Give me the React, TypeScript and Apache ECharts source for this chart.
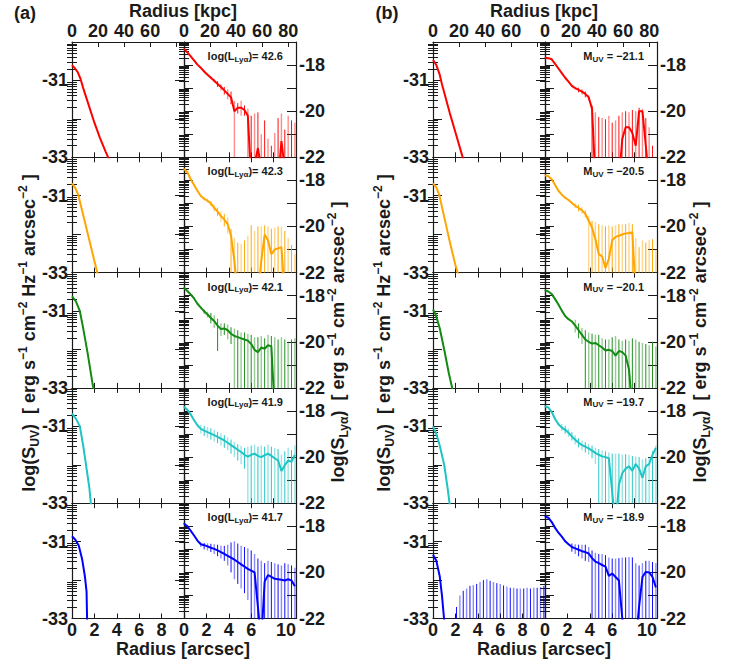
import React, { useEffect, useRef } from "react";
import * as echarts from "echarts";

// ---------- data ----------
const D = -99; // error bar runs below the plotted range

const radiusLya = [0, 0.3, 0.6, 0.9, 1.2, 1.5, 1.8, 2.1, 2.4, 2.7, 3.0, 3.3, 3.6, 3.9, 4.2, 4.5, 4.8, 5.1, 5.4, 5.7, 6.0, 6.3, 6.6, 6.9, 7.2, 7.5, 7.8, 8.1, 8.4, 8.7, 9.0, 9.3, 9.6, 9.9];

const kpcTicks = [0, 20, 40, 60, 80];
const arcsecTicks = [0, 2, 4, 6, 8, 10];
const uvTickLabels = [-33, -31];
const lyaTickLabels = [-22, -20, -18];
const uvRange = [-33, -30];
const lyaRange = [-22, -17];
const KPC_MAX = 86;

const lumLabels = ["42.6", "42.3", "42.1", "41.9", "41.7"];
const muvLabels = ["\u221221.1", "\u221220.5", "\u221220.1", "\u221219.7", "\u221218.9"];

// UV profiles, panel (a)
const uvA1x = [0, 0.25, 0.5, 0.75, 1, 1.5, 2, 2.5, 3, 3.3];
const uvA1y = [-30.6, -30.68, -30.78, -30.95, -31.2, -31.65, -32.1, -32.5, -32.85, -33.05];
const uvA2x = [0, 0.3, 0.55, 1, 1.5, 2, 2.3];
const uvA2y = [-30.68, -30.8, -30.97, -31.5, -32.1, -32.7, -33.05];
const uvA3x = [0, 0.35, 0.7, 1, 1.4, 1.85, 1.95];
const uvA3y = [-30.62, -30.75, -31.0, -31.45, -32.1, -32.92, -33.05];
const uvA4x = [0, 0.35, 0.7, 1, 1.3, 1.55, 1.7];
const uvA4y = [-30.67, -30.8, -31.0, -31.5, -32.1, -32.6, -33.05];
const uvA5x = [0, 0.3, 0.6, 0.9, 1.15, 1.3, 1.35];
const uvA5y = [-30.86, -30.95, -31.1, -31.45, -31.9, -32.3, -33.05];

// UV profiles, panel (b)
const uvB1x = [0, 0.3, 0.6, 0.8, 1.5, 2, 2.6, 2.7];
const uvB1y = [-30.47, -30.6, -30.85, -31.1, -31.85, -32.35, -32.95, -33.05];
const uvB2x = [0, 0.3, 0.55, 1, 1.5, 2, 2.25];
const uvB2y = [-30.68, -30.78, -30.97, -31.55, -32.2, -32.8, -33.05];
const uvB3x = [0, 0.25, 0.6, 1, 1.4, 1.75];
const uvB3y = [-30.96, -31.1, -31.45, -32.0, -32.6, -33.05];
const uvB4x = [0, 0.3, 0.6, 1, 1.3, 1.5];
const uvB4y = [-31.0, -31.2, -31.5, -32.0, -32.6, -33.05];
const uvB5x = [0, 0.3, 0.6, 0.8, 1.0];
const uvB5y = [-31.34, -31.5, -31.9, -32.4, -33.05];
const uvB5BarX = [2.1, 2.4, 2.7, 3.0, 3.3, 3.6, 3.9, 4.2, 4.5, 4.8, 5.1, 5.4, 5.7, 6.0, 6.3, 6.6, 6.9, 7.2, 7.5, 7.8, 8.1, 8.4, 8.7, 9.0, 9.3, 9.6, 9.9];
const uvB5BarHi = [-32.7, -32.4, -32.28, -32.22, -32.15, -32.13, -32.1, -32.05, -32.0, -31.98, -32.02, -32.05, -32.08, -32.1, -32.14, -32.17, -32.2, -32.2, -32.22, -32.22, -32.22, -32.2, -32.22, -32.2, -32.2, -32.18, -32.15];

// Lya profiles, panel (a)
const lyaA1 = [-17.3, -17.45, -17.62, -17.8, -17.98, -18.12, -18.28, -18.42, -18.55, -18.68, -18.82, -18.95, -19.1, -19.25, -19.4, -20.0, -19.85, -19.85, -19.95, -20.2, -23, -22.3, -21.6, -22.5, -23, -23, -23, -23, -23, -21.3, -22.5, -23, -23, -23];
const lyaA1Hi = [-17.28, -17.43, -17.6, -17.78, -17.96, -18.1, -18.25, -18.38, -18.5, -18.6, -18.7, -18.82, -18.95, -19.05, -19.15, -19.55, -19.65, -19.55, -19.75, -19.9, -20.2, -20.1, -20.05, -21.0, -20.4, -21.2, -21.5, -20.95, -20.3, -20.1, -20.8, -20.2, -20.4, -20.5];
const lyaA1Lo = [-17.32, -17.47, -17.64, -17.82, -18.0, -18.14, -18.31, -18.46, -18.6, -18.76, -18.95, -19.1, -19.28, -19.48, -19.7, D, -20.1, -20.2, -20.2, D, D, D, D, D, D, D, D, D, D, D, D, D, D, D];

const lyaA2 = [-17.5, -17.65, -17.95, -18.2, -18.45, -18.68, -18.8, -18.88, -19.0, -19.2, -19.35, -19.55, -19.7, -19.9, -20.4, -21.5, -23, -23, -23, -23, -23, -23, -23, -21.5, -20.35, -20.6, -21.2, -21.0, -20.95, -20.9, -23, -23, -23, -23];
const lyaA2Hi = [-17.48, -17.63, -17.92, -18.17, -18.42, -18.64, -18.74, -18.8, -18.9, -19.05, -19.18, -19.33, -19.45, -19.6, -20.1, -20.5, -20.7, -20.75, -20.6, -20.4, -19.95, -20.2, -20.0, -20.0, -19.95, -20.0, -20.1, -20.05, -20.0, -20.0, -20.2, -20.5, -20.8, -21.2];
const lyaA2Lo = [-17.52, -17.67, -17.98, -18.23, -18.48, -18.72, -18.86, -18.96, -19.1, -19.35, -19.55, -19.8, -20.0, -20.3, D, D, D, D, D, D, D, D, D, D, D, D, D, D, D, D, D, D, D, D];

const lyaA3 = [-17.65, -17.8, -17.95, -18.12, -18.35, -18.52, -18.68, -18.82, -18.97, -19.1, -19.3, -19.45, -19.42, -19.5, -19.65, -19.75, -19.8, -19.85, -19.9, -19.95, -20.1, -20.35, -20.45, -20.25, -20.3, -20.15, -20.2, -23, -23, -23, -23, -23, -23, -23];
const lyaA3Hi = [-17.62, -17.77, -17.92, -18.09, -18.31, -18.46, -18.6, -18.7, -18.75, -18.85, -19.0, -19.2, -19.2, -19.25, -19.37, -19.43, -19.5, -19.6, -19.6, -19.65, -19.7, -19.8, -19.8, -19.75, -19.85, -19.7, -19.75, -19.8, -19.9, -19.8, -19.9, -20.0, -19.9, -19.85];
const lyaA3Lo = [-17.68, -17.83, -17.98, -18.15, -18.39, -18.58, -18.78, -18.95, -19.2, -19.4, -20.4, -19.75, -19.7, -19.9, -20.1, D, D, D, D, D, D, D, D, D, D, D, D, D, D, D, D, D, D, D];

const lyaA4 = [-17.82, -17.95, -18.15, -18.4, -18.62, -18.78, -18.85, -18.92, -18.98, -19.05, -19.12, -19.2, -19.28, -19.38, -19.48, -19.58, -19.68, -19.78, -19.9, -19.98, -19.9, -19.85, -19.95, -20.0, -19.92, -19.85, -19.95, -20.05, -20.15, -20.6, -20.35, -20.15, -20.2, -19.9];
const lyaA4Hi = [-17.79, -17.92, -18.12, -18.37, -18.59, -18.6, -18.65, -18.7, -18.75, -18.82, -18.9, -18.97, -19.05, -19.15, -19.24, -19.34, -19.44, -19.52, -19.6, -19.55, -19.5, -19.45, -19.55, -19.5, -19.55, -19.45, -19.55, -19.6, -19.65, -19.9, -19.75, -19.6, -19.7, -19.5];
const lyaA4Lo = [-17.85, -17.98, -18.18, -18.43, -18.65, -18.98, -19.08, -19.16, -19.24, -19.32, -19.4, -19.5, -19.6, -19.7, -19.85, -20.0, -20.15, -20.3, -20.5, D, D, D, D, D, D, D, D, D, D, D, D, D, D, D];

const lyaA5 = [-17.88, -18.0, -18.2, -18.4, -18.62, -18.78, -18.82, -18.87, -18.93, -18.98, -19.05, -19.12, -19.2, -19.28, -19.36, -19.45, -19.55, -19.65, -19.75, -19.85, -19.92, -20.0, -21.5, -23, -20.4, -20.12, -20.2, -20.28, -20.3, -20.32, -20.35, -20.3, -20.35, -20.6];
const lyaA5Hi = [-17.85, -17.97, -18.17, -18.37, -18.59, -18.7, -18.72, -18.74, -18.76, -18.78, -18.8, -18.85, -18.85, -18.8, -18.7, -18.65, -18.75, -18.85, -18.9, -18.95, -19.05, -19.2, -19.4, -19.5, -19.6, -19.5, -19.55, -19.6, -19.65, -19.7, -19.6, -19.65, -19.7, -19.8];
const lyaA5Lo = [-17.91, -18.03, -18.23, -18.43, -18.65, -18.9, -19.0, -19.05, -19.12, -19.2, -19.3, -19.4, -19.5, -19.7, -20.0, -20.3, -20.5, -20.7, -20.9, -21.2, D, D, D, D, D, D, D, D, D, D, D, D, D, D];

// Lya profiles, panel (b)
const lyaB1 = [-17.68, -17.7, -17.75, -17.95, -18.15, -18.35, -18.55, -18.72, -18.9, -19.0, -19.08, -19.15, -19.25, -19.4, -19.9, -23, -23, -23, -23, -23, -23, -23, -23, -21.2, -20.7, -20.7, -20.95, -21.5, -20.0, -20.0, -21.5, -23, -23, -23];
const lyaB1Hi = [-17.66, -17.68, -17.73, -17.93, -18.13, -18.33, -18.53, -18.7, -18.87, -18.96, -18.98, -19.05, -19.15, -19.3, -19.75, -20.05, -20.25, -20.3, -20.35, -20.2, -20.5, -20.4, -20.2, -20.05, -20.0, -20.05, -19.95, -20.0, -19.85, -19.9, -20.3, -20.7, -21.5, -23];
const lyaB1Lo = [-17.7, -17.72, -17.77, -17.97, -18.17, -18.37, -18.57, -18.74, -18.93, -19.05, -19.18, -19.28, -19.4, -19.55, D, D, D, D, D, D, D, D, D, D, D, D, D, D, D, D, D, D, D, D];

const lyaB2 = [-17.78, -17.82, -17.95, -18.2, -18.45, -18.62, -18.75, -18.85, -18.98, -19.1, -19.2, -19.3, -19.45, -19.75, -20.05, -20.55, -21.2, -21.3, -21.8, -21.4, -20.6, -20.45, -20.4, -20.35, -20.3, -20.28, -20.25, -23, -23, -23, -23, -23, -23, -23];
const lyaB2Hi = [-17.76, -17.8, -17.93, -18.18, -18.43, -18.6, -18.72, -18.82, -18.93, -19.0, -19.05, -19.15, -19.3, -19.55, -19.75, -19.8, -19.9, -19.95, -20.0, -19.95, -20.0, -19.95, -19.9, -19.9, -19.9, -19.85, -19.9, -20.5, -20.9, -20.6, -20.7, -20.6, -20.55, -21.0];
const lyaB2Lo = [-17.8, -17.84, -17.97, -18.22, -18.47, -18.64, -18.78, -18.88, -19.03, -19.2, -19.35, -19.45, -19.6, D, D, D, D, D, D, D, D, D, D, D, D, D, D, D, D, D, D, D, D, D];

const lyaB3 = [-17.77, -17.82, -17.93, -18.15, -18.38, -18.65, -18.88, -19.02, -19.12, -19.3, -19.5, -19.7, -19.9, -20.0, -20.08, -20.05, -20.15, -20.25, -20.38, -20.35, -20.4, -20.6, -20.4, -20.45, -20.6, -21.2, -23, -23, -23, -23, -23, -23, -23, -23];
const lyaB3Hi = [-17.74, -17.79, -17.9, -18.12, -18.35, -18.62, -18.85, -18.99, -19.09, -19.05, -19.2, -19.4, -19.5, -19.6, -19.65, -19.7, -19.7, -19.85, -19.9, -19.9, -19.8, -19.75, -19.9, -19.95, -19.9, -19.95, -19.85, -19.9, -20.0, -20.05, -20.1, -20.15, -20.0, -20.2];
const lyaB3Lo = [-17.8, -17.85, -17.96, -18.18, -18.41, -18.68, -18.91, -19.05, -19.15, -19.6, -19.85, -20.1, D, D, D, D, D, D, D, D, D, D, D, D, D, D, D, D, D, D, D, D, D, D];

const lyaB4 = [-17.8, -17.85, -18.05, -18.35, -18.58, -18.72, -18.82, -18.95, -19.1, -19.25, -19.38, -19.48, -19.55, -19.62, -19.72, -19.82, -19.9, -19.97, -20.0, -20.05, -21.5, -23, -21.2, -20.7, -20.5, -20.4, -20.6, -20.3, -20.5, -20.9, -20.4, -20.3, -19.9, -19.6];
const lyaB4Hi = [-17.77, -17.82, -18.02, -18.32, -18.55, -18.57, -18.65, -18.77, -18.92, -19.05, -19.18, -19.28, -19.35, -19.42, -19.5, -19.6, -19.65, -19.7, -19.75, -19.8, -19.85, -19.85, -19.85, -19.9, -19.88, -19.9, -19.95, -19.98, -20.0, -20.1, -20.05, -20.0, -19.75, -19.5];
const lyaB4Lo = [-17.83, -17.88, -18.08, -18.38, -18.61, -18.87, -18.99, -19.13, -19.28, -19.45, -19.58, -19.7, -19.8, -19.9, -20.05, -20.3, D, D, D, D, D, D, D, D, D, D, D, D, D, D, D, D, D, D];

const lyaB5 = [-17.57, -17.63, -17.82, -18.07, -18.28, -18.45, -18.65, -18.78, -18.9, -18.96, -19.02, -19.08, -19.12, -19.18, -19.38, -19.53, -19.6, -19.68, -19.75, -20.15, -20.05, -20.2, -20.35, -22.0, -23, -23, -23, -23, -21.5, -20.2, -19.98, -20.0, -20.2, -20.65];
const lyaB5Hi = [-17.54, -17.6, -17.79, -18.04, -18.25, -18.42, -18.62, -18.75, -18.75, -18.78, -18.8, -18.8, -18.8, -18.9, -19.05, -19.15, -19.2, -19.2, -19.25, -19.35, -19.4, -19.4, -19.38, -19.35, -19.35, -19.33, -19.35, -19.6, -19.7, -19.6, -19.5, -19.5, -19.55, -19.6];
const lyaB5Lo = [-17.6, -17.66, -17.85, -18.1, -18.31, -18.48, -18.68, -18.81, -19.1, -19.2, -19.3, -19.4, -19.5, -19.55, D, D, D, D, D, D, D, D, D, D, D, D, D, D, D, D, D, D, D, D];

// ---------- styling / layout ----------
const rowColors = ["#ff0000", "#ffa500", "#138a13", "#1fc4c4", "#0000ff"];
const FONT = "'Liberation Sans', Arial, Helvetica, sans-serif";
const INK = "#1a1a1a";
const PANEL_X = [72, 433];
const COL_W = 112;
const TOP = 42;
const ROW_H = 115.3;

const panelA = [
  { uvX: uvA1x, uvY: uvA1y, y: lyaA1, hi: lyaA1Hi, lo: lyaA1Lo },
  { uvX: uvA2x, uvY: uvA2y, y: lyaA2, hi: lyaA2Hi, lo: lyaA2Lo },
  { uvX: uvA3x, uvY: uvA3y, y: lyaA3, hi: lyaA3Hi, lo: lyaA3Lo },
  { uvX: uvA4x, uvY: uvA4y, y: lyaA4, hi: lyaA4Hi, lo: lyaA4Lo },
  { uvX: uvA5x, uvY: uvA5y, y: lyaA5, hi: lyaA5Hi, lo: lyaA5Lo },
];
const panelB = [
  { uvX: uvB1x, uvY: uvB1y, y: lyaB1, hi: lyaB1Hi, lo: lyaB1Lo },
  { uvX: uvB2x, uvY: uvB2y, y: lyaB2, hi: lyaB2Hi, lo: lyaB2Lo },
  { uvX: uvB3x, uvY: uvB3y, y: lyaB3, hi: lyaB3Hi, lo: lyaB3Lo },
  { uvX: uvB4x, uvY: uvB4y, y: lyaB4, hi: lyaB4Hi, lo: lyaB4Lo },
  { uvX: uvB5x, uvY: uvB5y, y: lyaB5, hi: lyaB5Hi, lo: lyaB5Lo, barX: uvB5BarX, barHi: uvB5BarHi },
];

function logMinor(min: number, max: number) {
  const out: number[] = [];
  for (let n = Math.floor(min); n < max; n++) {
    for (let k = 2; k <= 9; k++) {
      const v = n + Math.log10(k);
      if (v > min && v < max) out.push(v);
    }
  }
  return out;
}

const lineStyleAxis = { color: INK, width: 1.2 };
const tickStyle = { color: INK, width: 1 };
const labelFont = { fontFamily: FONT, fontWeight: "bold" as const, fontSize: 18, color: INK };

function pushY(yAxis: any[], gridIndex: number, position: string, range: number[], labels: number[] | null) {
  const idx = yAxis.length;
  yAxis.push({
    type: "value", gridIndex, position, min: range[0], max: range[1], interval: 1,
    axisLine: { show: true, onZero: false, lineStyle: lineStyleAxis },
    axisTick: { show: true, inside: true, length: 9, lineStyle: tickStyle },
    axisLabel: labels
      ? {
          show: true, ...labelFont, margin: position === "left" ? 4 : 3,
          showMinLabel: true, showMaxLabel: true,
          formatter: (v: number) => (labels.some((l) => Math.abs(l - v) < 1e-6) ? String(Math.round(v)) : ""),
        }
      : { show: false },
    splitLine: { show: false },
  });
  yAxis.push({
    type: "value", gridIndex, position, min: range[0], max: range[1],
    axisLine: { show: false },
    axisTick: { show: true, inside: true, length: 5, lineStyle: tickStyle, customValues: logMinor(range[0], range[1]) },
    axisLabel: { show: false },
    splitLine: { show: false },
  });
  return idx;
}

function barSeries(xi: number, yi: number, color: string, data: number[][]) {
  return {
    type: "custom", xAxisIndex: xi, yAxisIndex: yi, silent: true, data,
    renderItem: (params: any, api: any) => {
      const x = api.value(0), lo = api.value(1), hi = api.value(2);
      const pt = api.coord([x, hi]);
      const pb = api.coord([x, lo]);
      const cs = params.coordSys;
      const y1 = Math.max(pt[1], cs.y);
      const y2 = Math.min(pb[1], cs.y + cs.height);
      if (!(y2 > y1 + 0.4)) return null;
      const dark = params.dataIndex % 2 === 0;
      return {
        type: "line",
        shape: { x1: pt[0], y1, x2: pt[0], y2 },
        style: { stroke: color, lineWidth: dark ? 1 : 1.4, opacity: dark ? 0.95 : 0.45 },
      };
    },
  };
}

function lineSeries(xi: number, yi: number, color: string, data: number[][]) {
  return {
    type: "line", xAxisIndex: xi, yAxisIndex: yi, data, showSymbol: false, symbol: "none",
    clip: true, silent: true, lineStyle: { color, width: 2 },
  };
}

function buildOption() {
  const grid: any[] = [], xAxis: any[] = [], yAxis: any[] = [], series: any[] = [], elements: any[] = [];
  [panelA, panelB].forEach((rows, p) => {
    rows.forEach((row: any, r: number) => {
      const color = rowColors[r];
      for (let c = 0; c < 2; c++) {
        const gi = grid.length;
        grid.push({ left: PANEL_X[p] + c * COL_W, top: TOP + r * ROW_H, width: COL_W, height: ROW_H });
        const xb = xAxis.length;
        xAxis.push({
          type: "value", gridIndex: gi, position: "bottom", min: arcsecTicks[0], max: arcsecTicks[arcsecTicks.length - 1], interval: 2,
          axisLine: { show: true, onZero: false, lineStyle: lineStyleAxis },
          axisTick: { show: true, inside: true, length: 5, lineStyle: tickStyle },
          axisLabel: {
            show: r === 4, ...labelFont, margin: 2, showMinLabel: true, showMaxLabel: true,
            alignMaxLabel: c === 1 ? "right" : undefined,
            formatter: (v: number) => (c === 0 && v === 10 ? "" : String(v)),
          },
          splitLine: { show: false },
        });
        if (r === 0) {
          xAxis.push({
            type: "value", gridIndex: gi, position: "top", min: 0, max: KPC_MAX, interval: 20,
            axisLine: { show: true, onZero: false, lineStyle: lineStyleAxis },
            axisTick: { show: true, inside: true, length: 5, lineStyle: tickStyle },
            axisLabel: {
              show: true, ...labelFont, margin: 2, showMinLabel: true, showMaxLabel: false,
              formatter: (v: number) => (kpcTicks.includes(v) && !(c === 0 && v === 80) ? String(v) : ""),
            },
            splitLine: { show: false },
          });
        } else {
          xAxis.push({
            type: "value", gridIndex: gi, position: "top", min: 0, max: 10, interval: 2,
            axisLine: { show: true, onZero: false, lineStyle: lineStyleAxis },
            axisTick: { show: true, inside: true, length: 5, lineStyle: tickStyle },
            axisLabel: { show: false }, splitLine: { show: false },
          });
        }
        const range = c === 0 ? uvRange : lyaRange;
        const labels = c === 0 ? uvTickLabels : lyaTickLabels;
        const yl = pushY(yAxis, gi, "left", range, c === 0 ? labels : null);
        const yr = pushY(yAxis, gi, "right", range, c === 1 ? labels : null);
        if (c === 0) {
          if (row.barX) series.push(barSeries(xb, yl, color, row.barX.map((x: number, i: number) => [x, D, row.barHi[i]])));
          series.push(lineSeries(xb, yl, color, row.uvX.map((x: number, i: number) => [x, row.uvY[i]])));
        } else {
          series.push(barSeries(xb, yr, color, radiusLya.map((x, i) => [x, row.lo[i], row.hi[i]])));
          series.push(lineSeries(xb, yr, color, radiusLya.map((x, i) => [x, row.y[i]])));
          const txt = p === 0 ? `{a|log(L}{s|Ly\u03b1}{a|)= ${lumLabels[r]}}` : `{a|M}{s|UV}{a| = ${muvLabels[r]}}`;
          elements.push({
            type: "text", z: 100,
            x: PANEL_X[p] + 2 * COL_W - 13, y: TOP + r * ROW_H + 14,
            style: {
              text: txt, align: "right", verticalAlign: "middle", textAlign: "right", textVerticalAlign: "middle",
              rich: {
                a: { fontSize: 11, fontWeight: "bold", fontFamily: FONT, fill: INK, lineHeight: 14 },
                s: { fontSize: 8, fontWeight: "bold", fontFamily: FONT, fill: INK, lineHeight: 10, verticalAlign: "bottom" },
              },
            },
          });
        }
      }
    });
  });

  const bigRich = {
    m: { fontSize: 18, fontWeight: "bold", fontFamily: FONT, fill: INK, lineHeight: 24 },
    sub: { fontSize: 12, fontWeight: "bold", fontFamily: FONT, fill: INK, lineHeight: 13, verticalAlign: "bottom" },
    sup: { fontSize: 12, fontWeight: "bold", fontFamily: FONT, fill: INK, lineHeight: 14, verticalAlign: "top" },
  };
  const plain = (text: string, x: number, y: number) => ({
    type: "text", z: 100, x, y,
    style: {
      text, fontSize: 18, fontWeight: "bold", fontFamily: FONT, fill: INK, lineHeight: 18,
      align: "center", verticalAlign: "middle", textAlign: "center", textVerticalAlign: "middle",
    },
  });
  const rotated = (text: string, x: number, y: number) => ({
    type: "text", z: 100, x, y, rotation: Math.PI / 2,
    style: { text, rich: bigRich, align: "center", verticalAlign: "middle", textAlign: "center", textVerticalAlign: "middle" },
  });
  const uvTitle = "{m|log(S}{sub|UV}{m|)  [ erg s}{sup|\u22121}{m| cm}{sup|\u22122}{m| Hz}{sup|\u22121}{m| arcsec}{sup|\u22122}{m| ]}";
  const lyaTitle = "{m|log(S}{sub|Ly\u03b1}{m|)  [ erg s}{sup|\u22121}{m| cm}{sup|\u22122}{m| arcsec}{sup|\u22122}{m| ]}";

  const panelMeta = [
    { tag: "(a)", tagX: 25, mid: 183, left: 29, right: 338 },
    { tag: "(b)", tagX: 387, mid: 544, left: 384, right: 700 },
  ];
  panelMeta.forEach((m) => {
    elements.push(plain(m.tag, m.tagX, 13));
    elements.push(plain("Radius [kpc]", m.mid, 11));
    elements.push(plain("Radius [arcsec]", m.mid, 649));
    elements.push(rotated(uvTitle, m.left, 333));
    elements.push(rotated(lyaTitle, m.right, 342));
  });

  return {
    animation: false,
    backgroundColor: "#ffffff",
    textStyle: { fontFamily: FONT },
    grid, xAxis, yAxis, series,
    graphic: { elements },
  };
}

export default function App() {
  const ref = useRef<HTMLDivElement>(null);
  useEffect(() => {
    const chart = echarts.init(ref.current as HTMLDivElement, null, { renderer: "svg" });
    chart.setOption(buildOption() as any);
    return () => chart.dispose();
  }, []);
  return (
    <div
      ref={ref}
      style={{ position: "absolute", left: 0, top: 0, width: 732, height: 667, background: "#fff" }}
    />
  );
}
